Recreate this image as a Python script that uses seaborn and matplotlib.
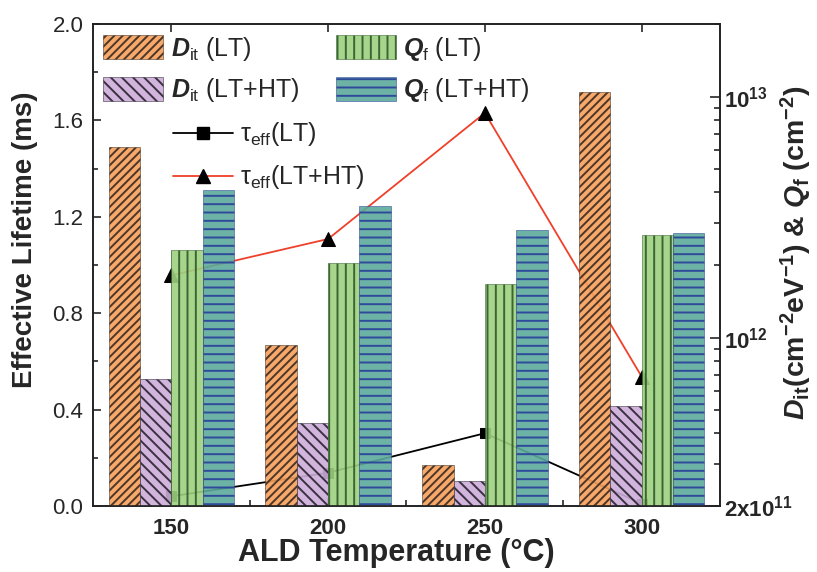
import matplotlib
matplotlib.use("Agg")
import matplotlib.pyplot as plt
from matplotlib.patches import Patch
from matplotlib.lines import Line2D
from matplotlib.ticker import FixedLocator, FixedFormatter, LogLocator, NullFormatter
import numpy as np
import pandas as pd
import seaborn as sns

# data
temps = [150, 200, 250, 300]
dit_lt = [6.2e12, 9.3e11, 2.95e11, 1.04e13]
dit_lthT = [6.7e11, 4.4e11, 2.55e11, 5.2e11]
qf_lt = [2.3e12, 2.03e12, 1.67e12, 2.67e12]
qf_lthT = [4.1e12, 3.5e12, 2.8e12, 2.72e12]
tau_lt = [0.04, 0.138, 0.302, 0.01]
tau_lthT = [0.957, 1.108, 1.631, 0.537]
left_ticks = [0.0, 0.4, 0.8, 1.2, 1.6, 2.0]

series = ['Dit LT', 'Dit LT+HT', 'Qf LT', 'Qf LT+HT']
colors = ['#F6A05A', '#CDADDA', '#9DD17F', '#5CAA9B']
hatches = ['////', '\\\\\\', '||', '--']
hatch_cols = ['#3a2a20', '#2a2230', '#2f5a2a', '#2a3f9a']
labels = [r'$\mathit{D}_{\mathrm{it}}$ (LT)', r'$\mathit{D}_{\mathrm{it}}$ (LT+HT)',
          r'$\mathit{Q}_{\mathrm{f}}$ (LT)', r'$\mathit{Q}_{\mathrm{f}}$ (LT+HT)']

df = pd.DataFrame({
    'temp': temps * 4,
    'series': [s for s in series for _ in temps],
    'value': dit_lt + dit_lthT + qf_lt + qf_lthT,
})

sns.set_theme(style='ticks')
plt.rcParams['font.family'] = ['Liberation Sans', 'DejaVu Sans']
plt.rcParams['mathtext.fontset'] = 'custom'
plt.rcParams['mathtext.rm'] = 'Liberation Sans'
plt.rcParams['mathtext.it'] = 'Liberation Sans:italic:bold'
plt.rcParams['mathtext.bf'] = 'Liberation Sans:bold'
plt.rcParams['hatch.linewidth'] = 1.4
plt.rcParams['axes.linewidth'] = 1.2

fig = plt.figure(figsize=(8.17, 5.72), dpi=100)
ax1 = fig.add_axes([0.1138, 0.1154, 0.7675, 0.8426])
ax2 = ax1.twinx()

# lifetime lines (left axis)
sns.lineplot(x=temps, y=tau_lt, ax=ax1, color='black', lw=1.3, marker='s',
             markersize=7.5, markeredgecolor='black', legend=False)
sns.lineplot(x=temps, y=tau_lthT, ax=ax1, color='#F0402A', lw=1.3, marker='^',
             markersize=10, markerfacecolor='black', markeredgecolor='black', legend=False)

# Dit / Qf bars (right log axis)
ax2.set_yscale('log')
sns.barplot(data=df, x='temp', y='value', hue='series', hue_order=series,
            palette=colors, native_scale=True, width=0.8, gap=0, saturation=1,
            alpha=0.9, legend=False, ax=ax2, err_kws={'linewidth': 0})
for cont, h, hc in zip(ax2.containers, hatches, hatch_cols):
    for p in cont:
        p.set_hatch(h)
        p.set_edgecolor(hc)
        p.set_linewidth(0.4)

ax1.set_xlim(125, 325)
ax1.set_ylim(0, 2.0)
ax2.set_ylim(2e11, 2e13)
for ax in (ax1, ax2):
    ax.set_xlabel('')
    ax.set_ylabel('')

ax1.xaxis.set_major_locator(FixedLocator(temps))
ax1.xaxis.set_minor_locator(FixedLocator([175, 225, 275]))
ax1.yaxis.set_major_locator(FixedLocator(left_ticks))
ax1.yaxis.set_major_formatter(FixedFormatter(['%.1f' % v for v in left_ticks]))
ax1.yaxis.set_minor_locator(FixedLocator([0.2, 0.6, 1.0, 1.4, 1.8]))
ax1.tick_params(axis='y', which='major', direction='in', length=6, width=1.2, labelsize=16,
                pad=7, left=True, right=False)
ax1.tick_params(axis='y', which='minor', direction='in', length=3.5, width=1.2, left=True, right=False)
ax1.tick_params(axis='x', which='major', direction='in', length=6, width=1.2, labelsize=16,
                pad=9, top=True, bottom=True)
ax1.tick_params(axis='x', which='minor', direction='in', length=4, width=1.2, top=False, bottom=True)
for t in ax1.get_xticklabels():
    t.set_fontweight('bold')

ax2.yaxis.set_major_locator(FixedLocator([2e11, 1e12, 1e13]))
ax2.yaxis.set_major_formatter(FixedFormatter([r'$\mathbf{2x10^{11}}$', r'$\mathbf{10^{12}}$', r'$\mathbf{10^{13}}$']))
ax2.yaxis.set_minor_locator(LogLocator(base=10, subs=np.arange(2, 10)))
ax2.yaxis.set_minor_formatter(NullFormatter())
ax2.tick_params(axis='y', which='major', direction='in', length=7, width=1.2, labelsize=16, pad=3)
ax2.tick_params(axis='y', which='minor', direction='in', length=4, width=1.2)

for ax in (ax1, ax2):
    for s in ax.spines.values():
        s.set_color('#222222')
        s.set_linewidth(1.2)

# axis titles
fig.text(0.4847, 0.033, 'ALD Temperature (°C)', fontsize=22, fontweight='bold',
         ha='center', va='center')
fig.text(0.031, 0.58, 'Effective Lifetime (ms)', fontsize=20, fontweight='bold',
         rotation=90, ha='center', va='center')
right_label = (r'$\mathit{D}_{\mathbf{it}}$(cm$^{\mathbf{-2}}$eV$^{\mathbf{-1}}$) & '
               r'$\mathit{Q}_{\mathbf{f}}$ (cm$^{\mathbf{-2}}$)')
fig.text(0.975, 0.559, right_label, fontsize=20.5, fontweight='bold',
         rotation=90, ha='center', va='center')

# legends
bar_handles = [Patch(facecolor=c, edgecolor=hc, hatch=h, lw=0.4, alpha=0.9)
               for c, h, hc in zip(colors, hatches, hatch_cols)]
leg1 = ax2.legend(bar_handles, labels, ncol=2, loc='upper left', bbox_to_anchor=(0.016, 0.978),
                  frameon=False, fontsize=18, handlelength=2.4, handleheight=1.1,
                  handletextpad=0.3, labelspacing=0.55, columnspacing=1.45,
                  borderpad=0, borderaxespad=0)
ax2.add_artist(leg1)
line_handles = [Line2D([], [], color='black', lw=1.3, marker='s', markersize=8),
                Line2D([], [], color='#F0402A', lw=1.3, marker='^', markersize=10,
                       markerfacecolor='black', markeredgecolor='black')]
ax2.legend(line_handles, ['τ$_{\\mathrm{eff}}$(LT)', 'τ$_{\\mathrm{eff}}$(LT+HT)'],
           loc='upper left', bbox_to_anchor=(0.127, 0.80), frameon=False, fontsize=18,
           handlelength=2.4, handletextpad=0.3, labelspacing=0.6, borderpad=0,
           borderaxespad=0, numpoints=1)

fig.savefig('out.png', dpi=100)
